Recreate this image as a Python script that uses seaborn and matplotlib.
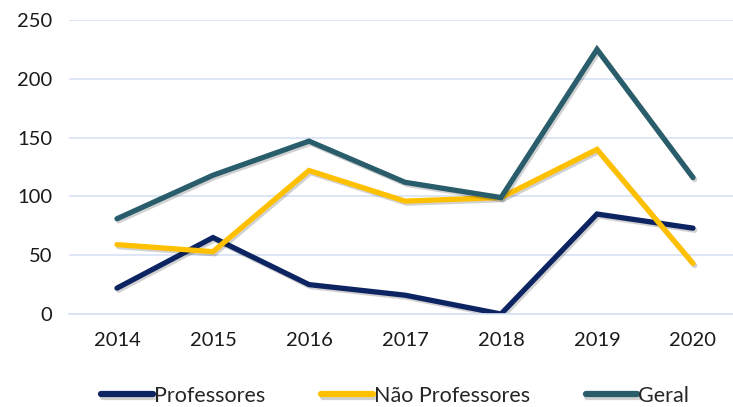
import matplotlib
matplotlib.use("Agg")
import matplotlib.pyplot as plt
import matplotlib.patheffects as pe
import seaborn as sns
import pandas as pd

anos = ['2014', '2015', '2016', '2017', '2018', '2019', '2020']
professores = [22, 65, 25, 16, 0, 85, 73]
nao_professores = [59, 53, 122, 96, 99, 140, 43]
geral = [81, 118, 147, 112, 99, 225, 116]

series = ['Professores', 'Não Professores', 'Geral']
cores = ['#0c2461', '#ffc000', '#2a5d6b']

df = pd.DataFrame({
    'ano': anos * 3,
    'valor': professores + nao_professores + geral,
    'serie': [s for s in series for _ in anos],
})

sns.set_style('white')
plt.rcParams['font.family'] = ['Lato', 'DejaVu Sans']

fig = plt.figure(figsize=(7.33, 4.07), dpi=100)
ax = fig.add_axes([69/733, 1 - 314/407, 672/733, 294/407])

sns.lineplot(data=df, x='ano', y='valor', hue='serie', palette=cores,
             linewidth=3.8, ax=ax, sort=False, legend=True)

for line in ax.get_lines():
    line.set_solid_capstyle('round')
    line.set_solid_joinstyle('miter')
    line.set_path_effects([pe.SimpleLineShadow(offset=(1.2, -1.5), alpha=0.18, rho=0.5),
                           pe.Normal()])

ax.set_xlim(-0.5, 6.5)
ax.set_ylim(0, 250)
ax.set_yticks(range(0, 251, 50))
ax.yaxis.grid(True, color='#d6e2f3', linewidth=1.2)
ax.set_axisbelow(True)
for s in ['top', 'right', 'left']:
    ax.spines[s].set_visible(False)
ax.spines['bottom'].set_color('#d6e2f3')
ax.spines['bottom'].set_linewidth(1.2)
ax.set_xlabel('')
ax.set_ylabel('')

ax.set_xticks([x + 0.5 for x in range(6)], minor=True)
ax.tick_params(axis='x', which='minor', length=6, color='#d6e2f3', width=1.2)
ax.tick_params(axis='x', which='major', length=0, pad=13, labelsize=14.5, colors='#1a1a1a')
ax.tick_params(axis='y', length=0, pad=12, labelsize=14.5, colors='#1a1a1a')

handles, labels = ax.get_legend_handles_labels()
ax.legend_.remove()
leg = fig.legend(handles, labels, loc='center', bbox_to_anchor=(0.539, 1 - 396/407),
                 ncol=3, frameon=False, fontsize=15.5, handlelength=2.4,
                 handletextpad=0.05, columnspacing=2.6)
for h in leg.get_lines():
    h.set_linewidth(4.5)
    h.set_solid_capstyle('round')

fig.savefig('out.png', dpi=100)
